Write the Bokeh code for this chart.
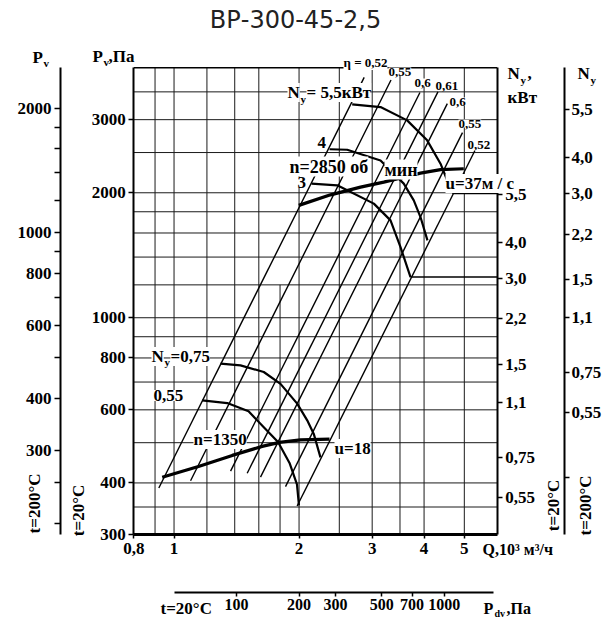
import math
from bokeh.plotting import figure
from bokeh.models import Range1d, LogScale, LogAxis, FixedTicker, Label
from bokeh.embed import file_html
from bokeh.resources import INLINE

# ---------------- data ----------------
title_text = "ВР-300-45-2,5"

# flow axis Q, 10^3 m3/h
q_ticks = [0.8, 1, 2, 3, 4, 5]
q_tick_labels = ["0,8", "1", "2", "3", "4", "5"]
q_grid = [0.9, 1, 1.2, 1.4, 1.6, 2, 2.5, 3, 3.5, 4, 5]
q_grid_partial = [1.8]
q_grid_partial_p0 = [300]
q_grid_partial_p1 = [1200]

# static pressure Pv, Pa (20 C)
pv_ticks = [300, 400, 600, 800, 1000, 2000, 3000]
pv_grid = [350, 400, 500, 600, 700, 800, 900, 1000, 1200, 1400, 1600, 1800, 2000, 2500, 3000, 3500]

# Pv at 200 C (outer left scale)
pv200_ticks = [200, 250, 300, 400, 500, 600, 700, 800, 900, 1000, 1200, 1400, 1600, 1800, 2000]
pv200_labels = ["", "", "300", "400", "", "600", "", "800", "", "1000", "", "", "", "", "2000"]
density_ratio = 1.6

# motor power scale Ny, kW
ny_ticks = [1982, 1518, 1245, 994, 771, 625, 461, 369]
ny_labels = ["5,5", "4,0", "3,0", "2,2", "1,5", "1,1", "0,75", "0,55"]
ny200_extra_ticks = [258]

# dynamic pressure scale Pdv, Pa
pdv_ticks = [100, 200, 300, 500, 700, 1000]
pdv_labels = ["100", "200", "300", "500", "700", "1000"]
pdv_per_q2 = 50.0
pdv_bounds = (50, 1730)

# efficiency lines
eta_labels = ["η = 0,52", "0,55", "0,6", "0,61", "0,6", "0,55", "0,52"]
eta_q_start = [0.919, 1.096, 1.368, 1.500, 1.615, 1.855, 1.979]
eta_p_start = [389, 405, 427, 422, 413, 392, 352]
eta_q_end = [2.87, 3.33, 3.91, 4.32, 4.55, 4.95, 5.30]
eta_p_end = [3794, 3739, 3489, 3501, 3279, 2791, 2525]

# speed lines
n1350_q = [0.9365, 1.145, 1.381, 1.630, 1.795, 2.016, 2.368]
n1350_p = [413, 438, 466, 490, 501, 508, 510]
n2850_q = [1.997, 2.382, 2.812, 3.199, 3.921, 4.382, 4.985]
n2850_p = [1865, 1977, 2064, 2122, 2230, 2273, 2285]

# pressure curves per motor
ny55_q = [2.685, 3.142, 3.642, 4.069, 4.382, 4.547, 4.709]
ny55_p = [3265, 3217, 2988, 2675, 2350, 2142, 1993]
ny40_q = [2.368, 2.612, 3.142, 3.574, 3.778, 3.921, 4.076]
ny40_p = [2546, 2539, 2393, 2104, 1917, 1748, 1536]
ny30_q = [2.1425, 2.471, 2.612, 3.0275, 3.321, 3.510, 3.710]
ny30_p = [2104, 2084, 2027, 1883, 1716, 1480, 1253]
ny075_q = [1.294, 1.4453, 1.6446, 1.8045, 1.9794, 2.0925, 2.170, 2.252]
ny075_p = [775, 768, 740, 693, 621, 566, 525, 461]
ny055_q = [1.169, 1.3428, 1.5113, 1.6446, 1.780, 1.897, 1.977, 1.999]
ny055_p = [632, 623, 595, 545, 502, 447, 397, 353]

connector_q0 = [4.709, 3.710]
connector_p = [1993, 1253]

# ---------------- layout geometry ----------------
W, H = 612, 620
Q_MIN, Q_MAX = 0.8, 6.0          # chart box in data units
P_MIN, P_MAX = 300.0, 4000.0
BOX_L, BOX_R, BOX_T, BOX_B = 133.3, 496.7, 67.3, 534.3   # chart box in page px

kx = (BOX_R - BOX_L) / math.log10(Q_MAX / Q_MIN)
ky = (BOX_B - BOX_T) / math.log10(P_MAX / P_MIN)
X_LO = 10 ** (math.log10(Q_MIN) - BOX_L / kx)
X_HI = 10 ** (math.log10(Q_MAX) + (W - BOX_R) / kx)
Y_HI = 10 ** (math.log10(P_MAX) + BOX_T / ky)
Y_LO = 10 ** (math.log10(P_MIN) - (H - BOX_B) / ky)


def at_x(sx):
    return 10 ** (math.log10(Q_MIN) + (sx - BOX_L) / kx)


def at_y(sy):
    return 10 ** (math.log10(P_MIN) + (BOX_B - sy) / ky)


SERIF = "Liberation Serif"

p = figure(width=W, height=H, x_axis_type="log", y_axis_type="log",
           x_range=Range1d(X_LO, X_HI), y_range=Range1d(Y_LO, Y_HI),
           output_backend="svg", toolbar_location=None,
           min_border=0, min_border_left=0, min_border_right=0,
           min_border_top=0, min_border_bottom=0)
p.background_fill_color = "white"
p.border_fill_color = "white"
p.outline_line_color = None
p.xgrid.visible = False
p.ygrid.visible = False

p.extra_y_ranges = {"t200": Range1d(Y_LO / density_ratio, Y_HI / density_ratio)}
p.extra_y_scales = {"t200": LogScale()}
p.extra_x_ranges = {"pdv": Range1d(pdv_per_q2 * X_LO ** 2, pdv_per_q2 * X_HI ** 2)}
p.extra_x_scales = {"pdv": LogScale()}


def style_axis(ax, ticks, labels, size=17, line_width=2, tick_out=5, standoff=3):
    ax.ticker = FixedTicker(ticks=list(ticks), minor_ticks=[])
    ax.major_label_overrides = {t: l for t, l in zip(ticks, labels)}
    ax.major_label_text_font = SERIF
    ax.major_label_text_font_style = "bold"
    ax.major_label_text_font_size = f"{size}px"
    ax.major_label_text_color = "black"
    ax.axis_line_width = line_width
    ax.axis_line_color = "black"
    ax.major_tick_out = tick_out
    ax.major_tick_in = 0
    ax.minor_tick_out = 0
    ax.minor_tick_in = 0
    ax.major_tick_line_width = 1.5
    ax.major_label_standoff = standoff


# main Q axis
xa = p.xaxis[0]
style_axis(xa, q_ticks, q_tick_labels, line_width=3, tick_out=4, standoff=4)
xa.fixed_location = P_MIN
xa.bounds = (Q_MIN, Q_MAX)

# main Pv axis
ya = p.yaxis[0]
style_axis(ya, pv_ticks, [str(v) for v in pv_ticks], line_width=2, tick_out=5, standoff=3)
ya.fixed_location = Q_MIN
ya.bounds = (P_MIN, P_MAX)

# outer left: Pv at 200 C
yl2 = LogAxis(y_range_name="t200")
style_axis(yl2, pv200_ticks, pv200_labels, tick_out=6, standoff=3)
yl2.fixed_location = at_x(60)
yl2.bounds = (P_MIN / density_ratio, P_MAX / density_ratio)
p.add_layout(yl2, "left")

# right: Ny at 20 C
yr1 = LogAxis()
style_axis(yr1, ny_ticks, ny_labels, tick_out=5, standoff=3)
yr1.fixed_location = Q_MAX
yr1.bounds = (P_MIN, P_MAX)
p.add_layout(yr1, "right")

# outer right: Ny at 200 C
yr2 = LogAxis(y_range_name="t200")
style_axis(yr2, ny_ticks + ny200_extra_ticks, ny_labels + [""], tick_out=5, standoff=2)
yr2.fixed_location = at_x(564)
yr2.bounds = (P_MIN / density_ratio, P_MAX / density_ratio)
p.add_layout(yr2, "right")

# bottom: dynamic pressure
xb2 = LogAxis(x_range_name="pdv")
style_axis(xb2, pdv_ticks, pdv_labels, size=16, tick_out=4, standoff=3)
xb2.fixed_location = at_y(591.7)
xb2.bounds = pdv_bounds
p.add_layout(xb2, "below")

# grid (limited to the chart box)
GRID = "#1a1a1a"
p.segment(x0=q_grid, y0=[P_MIN] * len(q_grid), x1=q_grid, y1=[P_MAX] * len(q_grid),
          line_color=GRID, line_width=1)
p.segment(x0=[Q_MIN] * len(pv_grid), y0=pv_grid, x1=[Q_MAX] * len(pv_grid), y1=pv_grid,
          line_color=GRID, line_width=1)
p.segment(x0=q_grid_partial, y0=q_grid_partial_p0, x1=q_grid_partial, y1=q_grid_partial_p1,
          line_color=GRID, line_width=1)
# top edge of the box
p.segment(x0=[Q_MIN], y0=[P_MAX], x1=[Q_MAX], y1=[P_MAX], line_color="black", line_width=1.5)

# connectors to the Ny scale
p.segment(x0=connector_q0, y0=connector_p, x1=[Q_MAX] * len(connector_p), y1=connector_p,
          line_color="black", line_width=1.5)

# efficiency lines
p.segment(x0=eta_q_start, y0=eta_p_start, x1=eta_q_end, y1=eta_p_end,
          line_color="black", line_width=1.4)

# motor curves
for qs, ps in ((ny55_q, ny55_p), (ny40_q, ny40_p), (ny30_q, ny30_p),
               (ny075_q, ny075_p), (ny055_q, ny055_p)):
    p.line(qs, ps, line_color="black", line_width=2.2)

# speed lines
p.line(n1350_q, n1350_p, line_color="black", line_width=3.2)
p.line(n2850_q, n2850_p, line_color="black", line_width=3.2)


# ---------------- annotations ----------------
def lab(text, sx, sy, size=17, align="left", angle=0.0, bg=None, style="bold",
        font=SERIF, color="black"):
    p.add_layout(Label(x=at_x(sx), y=at_y(sy), text=text, text_font=font,
                       text_font_size=f"{size}px", text_font_style=style,
                       text_align=align, text_baseline="middle", angle=angle,
                       background_fill_color=bg, text_color=color))


WH = "white"
lab(title_text, 295, 19, size=24, align="center", style="normal", font="DejaVu Sans", color="#222222")

# axis headers
lab("P", 32, 57)
lab("v", 43, 62, size=11)
lab("P", 92, 56)
lab("v", 103, 61, size=11)
lab(",Па", 108, 56)
lab("N", 507, 73)
lab("y", 520, 79, size=11)
lab(",", 527, 73)
lab("кВт", 507, 97)
lab("N", 577, 73)
lab("y", 590, 79, size=11)

# curve labels
lab("N", 287, 92, bg=WH)
lab("y", 300, 98, size=11)
lab("= 5,5кВт", 306, 92, bg=WH)
lab("4", 317, 142, bg=WH)
lab("3", 297, 182, bg=WH)
lab("n=2850 об", 289, 166, size=18, bg=WH)
lab("мин", 384, 169, size=18, bg=WH)
lab("u=37м / с", 445, 183, bg=WH)
lab("N", 151, 356, bg=WH)
lab("y", 164, 361, size=11)
lab("=0,75", 170, 356, bg=WH)
lab("0,55", 153, 395, bg=WH)
lab("n=1350", 193, 439, bg=WH)
lab("u=18", 334, 448, bg=WH)

# efficiency labels
eta_label_pos = [(343, 62), (388, 71), (414, 82), (435, 85), (449, 101), (458, 123), (467, 144)]
for t, (sx, sy) in zip(eta_labels, eta_label_pos):
    lab(t, sx, sy, size=13, bg=WH)

# bottom texts
lab("Q,10³ м³/ч", 482, 549, size=16)
lab("t=20°C", 160, 608, size=17)
lab("P", 483, 608, size=16)
lab("dv", 494, 613, size=10)
lab(",Па", 506, 608, size=16)

# rotated temperature labels
lab("t=200°C", 34, 503, size=17, align="center", angle=math.pi / 2)
lab("t=20°C", 78, 510, size=17, align="center", angle=math.pi / 2)
lab("t=20°C", 553, 505, size=17, align="center", angle=math.pi / 2)
lab("t=200°C", 585, 505, size=17, align="center", angle=math.pi / 2)

open("out.html", "w").write(file_html(p, INLINE))
